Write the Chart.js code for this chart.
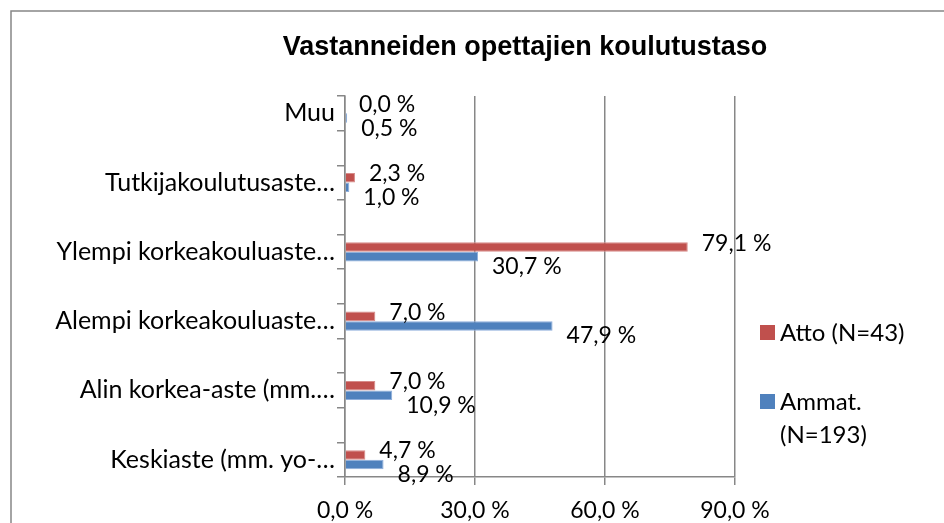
<!DOCTYPE html>
<html>
<head>
<meta charset="utf-8">
<script src="https://cdn.jsdelivr.net/npm/chart.js@4"></script>
<style>
  body { margin: 0; background: #fff; }
  #wrap { width: 944px; height: 523px; }
</style>
</head>
<body>
<div id="wrap"><canvas id="myChart" width="944" height="523"></canvas></div>
<script>
// data
const categories = ['Muu', '', 'Tutkijakoulutusaste…', '', 'Ylempi korkeakouluaste…', '', 'Alempi korkeakouluaste…', '', 'Alin korkea-aste (mm.…', '', 'Keskiaste (mm. yo-…'];
const attoValues = [0.0, null, 2.3, null, 79.1, null, 7.0, null, 7.0, null, 4.7];
const ammatValues = [0.5, null, 1.0, null, 30.7, null, 47.9, null, 10.9, null, 8.9];
const seriesNames = ['Atto (N=43)', 'Ammat. (N=193)'];
const xTicks = [0, 30, 60, 90];
const chartTitle = 'Vastanneiden opettajien koulutustaso';

const gridColor = '#878787';
const numFont = { family: 'Lato', size: 23 };
const catFont = { family: 'Lato', size: 25 };
const legendFont = { family: 'Lato', size: 24 };

function pct(v) {
    return v.toFixed(1).replace('.', ',') + ' %';
}

// frame + title + legend + value labels
const decorations = {
    id: 'decorations',
    beforeDraw(chart) {
        const ctx = chart.ctx;
        ctx.save();
        ctx.fillStyle = '#fff';
        ctx.fillRect(0, 0, chart.width, chart.height);
        ctx.strokeStyle = gridColor;
        ctx.lineWidth = 1.5;
        ctx.strokeRect(11, 11, chart.width + 20, chart.height + 20);
        ctx.restore();
    },
    afterDatasetsDraw(chart) {
        const ctx = chart.ctx;
        ctx.save();
        ctx.font = numFont.size + 'px ' + numFont.family;
        ctx.fillStyle = '#000';
        ctx.textAlign = 'left';
        ctx.textBaseline = 'middle';
        chart.data.datasets.forEach(function (ds, i) {
            const meta = chart.getDatasetMeta(i);
            const dy = i === 0 ? -4 : 10;
            meta.data.forEach(function (bar, j) {
                const v = ds.data[j];
                if (v === null) return;
                ctx.fillText(pct(v), bar.x + 14, bar.y + dy);
            });
        });
        ctx.restore();
    },
    afterDraw(chart) {
        const ctx = chart.ctx;
        ctx.save();
        // title
        ctx.font = 'bold 27px "Liberation Sans", Arial';
        ctx.fillStyle = '#000';
        ctx.textAlign = 'center';
        ctx.textBaseline = 'middle';
        ctx.fillText(chartTitle, 525, 48);
        // legend
        ctx.font = legendFont.size + 'px ' + legendFont.family;
        ctx.textAlign = 'left';
        let y = 333;
        chart.data.datasets.forEach(function (ds) {
            ctx.fillStyle = ds.backgroundColor;
            ctx.fillRect(760, y - 8, 15, 15);
            ctx.fillStyle = '#000';
            const words = ds.label.split(' ');
            let line = '';
            let ly = y;
            words.forEach(function (w) {
                const test = line ? line + ' ' + w : w;
                if (line && ctx.measureText(test).width > 150) {
                    ctx.fillText(line, 780, ly);
                    line = w;
                    ly += 33;
                } else {
                    line = test;
                }
            });
            ctx.fillText(line, 780, ly);
            y += 69;
        });
        ctx.restore();
    }
};

const data = {
    labels: categories,
    datasets: [{
        label: seriesNames[0],
        data: attoValues,
        backgroundColor: '#C0504D',
        borderColor: '#D68B89',
        borderWidth: 1
    }, {
        label: seriesNames[1],
        data: ammatValues,
        backgroundColor: '#4F81BD',
        borderColor: '#8EAEDB',
        borderWidth: 1
    }]
};

// config
const config = {
    type: 'bar',
    data,
    options: {
        indexAxis: 'y',
        responsive: false,
        animation: false,
        categoryPercentage: 0.55,
        barPercentage: 1,
        layout: { padding: { top: 96, left: 12, right: 209, bottom: 0 } },
        plugins: {
            legend: { display: false },
            title: { display: false },
            tooltip: { enabled: false }
        },
        scales: {
            x: {
                min: 0,
                max: 90,
                afterBuildTicks(scale) {
                    scale.ticks = xTicks.map(v => ({ value: v }));
                },
                afterFit(scale) { scale.height = 46; },
                grid: { color: gridColor, lineWidth: 1.5, tickLength: 8 },
                border: { color: gridColor, width: 1.5 },
                ticks: {
                    color: '#000',
                    font: numFont,
                    padding: 12,
                    callback: v => pct(v)
                }
            },
            y: {
                afterFit(scale) { scale.width = 333; },
                grid: { drawOnChartArea: false, color: gridColor, lineWidth: 1.5, tickLength: 8, offset: true },
                border: { color: gridColor, width: 1.5 },
                ticks: {
                    color: '#000',
                    font: catFont,
                    padding: 2,
                    autoSkip: false
                }
            }
        }
    },
    plugins: [decorations]
};

// render init block
const myChart = new Chart(
    document.getElementById('myChart'),
    config
);
</script>
</body>
</html>
